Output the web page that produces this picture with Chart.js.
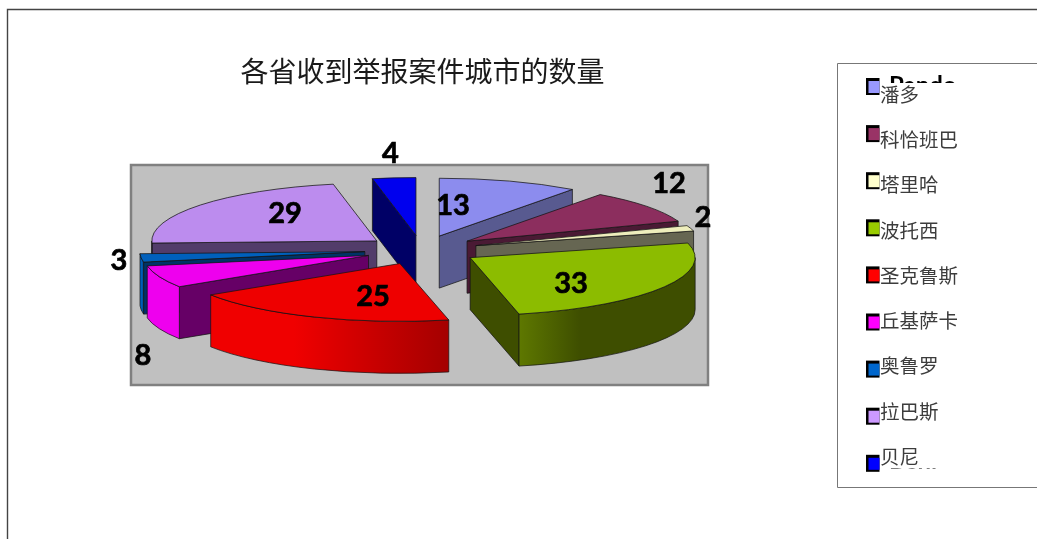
<!DOCTYPE html>
<html>
<head>
<meta charset="utf-8">
<style>html,body{margin:0;padding:0;background:#fff;overflow:hidden}canvas{display:block}</style>
<script src="https://cdn.jsdelivr.net/npm/chart.js@4/dist/chart.umd.min.js"></script>
</head>
<body>
<canvas id="c" width="1037" height="539"></canvas>
<script>
const titleText = '各省收到举报案件城市的数量';
const categories = ['潘多','科恰班巴','塔里哈','波托西','圣克鲁斯','丘基萨卡','奥鲁罗','拉巴斯','贝尼'];
const values = [13,12,2,33,25,8,3,29,4];
const topColors = ['#8c8cee','#8c2e5e','#eeeebc','#8cbc00','#ee0000','#ee00ee','#0060bc','#bc8cee','#0000ee'];
const radialWallColors = ['#585a90','#4a1a34','#666652','#3e4e00','#800000','#660066','#003366','#523c6a','#000066'];
const outerWallLeft = ['#8c8cee','#6e2449','#eeeebc','#5e7800','#f00000','#ee00ee','#0060bc','#7a5c9c','#0000ee'];
const outerWallRight = ['#6e6ebc','#4a1a34','#bcbc94','#3e4e00','#a40000','#ee00ee','#004a90','#523c6a','#000066'];
const legendColors = ['#9999ff','#993366','#ffffcc','#99cc00','#ff0000','#ff00ff','#0066cc','#cc99ff','#0000ff'];
const paintOrder = [8,7,0,1,2,6,5,3,4];
const labelX = [453,669,703,571,373,143,119,285,390.5];
const labelY = [205.5,183.5,217.5,283.5,296.5,355.5,260.5,213.5,153.5];

const SQUASH = 0.257, EXPLODE = 57, DEPTH = 52;

function apex(el){
  const m = (el.startAngle + el.endAngle) / 2;
  return {x: el.x + Math.cos(m) * EXPLODE, y: el.y + Math.sin(m) * EXPLODE * SQUASH};
}
function face(ctx, pts, fill){
  ctx.beginPath();
  pts.forEach((p,i)=> i ? ctx.lineTo(p[0],p[1]) : ctx.moveTo(p[0],p[1]));
  ctx.closePath();
  ctx.fillStyle = fill; ctx.fill();
  ctx.lineWidth = 1; ctx.strokeStyle = 'rgba(20,20,20,.75)'; ctx.stroke();
}
function drawSlice(ctx, el, i){
  const a = apex(el), R = el.outerRadius, ry = R * SQUASH;
  const at = t => [a.x + R*Math.cos(t), a.y + ry*Math.sin(t)];
  const down = p => [p[0], p[1] + DEPTH];
  const A = [a.x,a.y];
  // only the radial walls that face the viewer
  if (Math.cos(el.startAngle) < -1e-6){
    const P = at(el.startAngle);
    face(ctx, [A,P,down(P),down(A)], radialWallColors[i]);
  }
  if (Math.cos(el.endAngle) > 1e-6){
    const P = at(el.endAngle);
    face(ctx, [A,P,down(P),down(A)], radialWallColors[i]);
  }
  const t1 = Math.max(el.startAngle,0), t2 = Math.min(el.endAngle,Math.PI);
  if (t2 > t1){
    const p1 = at(t1), p2 = at(t2);
    const g = ctx.createLinearGradient(Math.min(p1[0],p2[0]),0,Math.max(p1[0],p2[0]),0);
    g.addColorStop(0,outerWallLeft[i]);
    g.addColorStop(.35,outerWallRight[i]==='#3e4e00'?'#3e4e00':outerWallLeft[i]);
    g.addColorStop(1,outerWallRight[i]);
    ctx.beginPath();
    ctx.ellipse(a.x,a.y,R,ry,0,t1,t2,false);
    ctx.ellipse(a.x,a.y+DEPTH,R,ry,0,t2,t1,true);
    ctx.closePath();
    ctx.fillStyle = g; ctx.fill();
    ctx.lineWidth = 1; ctx.strokeStyle = 'rgba(20,20,20,.7)'; ctx.stroke();
  }
  ctx.save();
  ctx.translate(a.x,a.y); ctx.scale(1,SQUASH); ctx.translate(-el.x,-el.y);
  el.draw(ctx);
  ctx.restore();
  ctx.beginPath();
  ctx.moveTo(a.x,a.y);
  ctx.ellipse(a.x,a.y,R,ry,0,el.startAngle,el.endAngle,false);
  ctx.closePath();
  ctx.lineWidth = 1; ctx.strokeStyle = 'rgba(20,20,20,.75)'; ctx.stroke();
}
const pie3d = {
  id:'pie3d',
  beforeDraw(chart){
    const ctx = chart.ctx;
    ctx.save();
    ctx.fillStyle = '#fff'; ctx.fillRect(0,0,chart.width,chart.height);
    ctx.strokeStyle = '#444'; ctx.lineWidth = 1.4;
    ctx.beginPath(); ctx.moveTo(7.5,chart.height); ctx.lineTo(7.5,9.5); ctx.lineTo(chart.width,9.5); ctx.stroke();
    ctx.fillStyle = '#c0c0c0'; ctx.fillRect(131,165,577,220);
    ctx.strokeStyle = '#808080'; ctx.lineWidth = 2.5; ctx.strokeRect(131,165,577,220);
    ctx.restore();
  },
  beforeDatasetDraw(chart){
    const ctx = chart.ctx, arcs = chart.getDatasetMeta(0).data;
    paintOrder.forEach(i => drawSlice(ctx, arcs[i], i));
    return false;
  },
  afterDraw(chart){
    const ctx = chart.ctx;
    ctx.save();
    ctx.textBaseline = 'middle'; ctx.textAlign = 'center';
    ctx.fillStyle = '#1a1a1a';
    ctx.font = '28px "Noto Sans CJK SC"';
    ctx.fillText(titleText, 422.5, 71);
    ctx.fillStyle = '#000'; ctx.strokeStyle = '#000'; ctx.lineWidth = .7;
    ctx.font = 'bold 29px Lato';
    values.forEach((v,i)=>{ ctx.fillText(String(v), labelX[i], labelY[i]); ctx.strokeText(String(v), labelX[i], labelY[i]); });
    // legend frame
    ctx.strokeStyle = '#777'; ctx.lineWidth = 1;
    ctx.beginPath(); ctx.moveTo(chart.width,63.5); ctx.lineTo(837.5,63.5); ctx.lineTo(837.5,487.5); ctx.lineTo(chart.width,487.5); ctx.stroke();
    // clipped labels of the underlying legend
    ctx.textAlign = 'left'; ctx.fillStyle = '#000'; ctx.font = 'bold 24px Lato';
    ctx.save(); ctx.beginPath(); ctx.rect(885,70,80,13); ctx.clip();
    ctx.fillText('Pando', 889, 86.5); ctx.restore();
    ctx.save(); ctx.beginPath(); ctx.rect(885,468.5,80,6); ctx.clip();
    ctx.fillText('Beni', 889, 461.5); ctx.restore();
    categories.forEach((c,i)=>{
      const sy = 78 + i*47.1;
      ctx.fillStyle = '#000'; ctx.fillRect(866,sy,13.5,17);
      ctx.fillStyle = legendColors[i]; ctx.fillRect(868.5,sy+3,11,12);
      ctx.fillStyle = '#3c3c3c'; ctx.font = '19.5px "Noto Sans CJK SC"';
      ctx.fillText(c, 880, 94.5 + i*45.25);
    });
    ctx.restore();
  }
};
new Chart(document.getElementById('c'),{
  type:'pie',
  data:{labels:categories,datasets:[{data:values,backgroundColor:topColors,borderWidth:0,radius:225}]},
  options:{
    responsive:false,animation:false,
    layout:{padding:{right:194,bottom:39}},
    plugins:{legend:{display:false},title:{display:false},tooltip:{enabled:false}}
  },
  plugins:[pie3d]
});
</script>
</body>
</html>
